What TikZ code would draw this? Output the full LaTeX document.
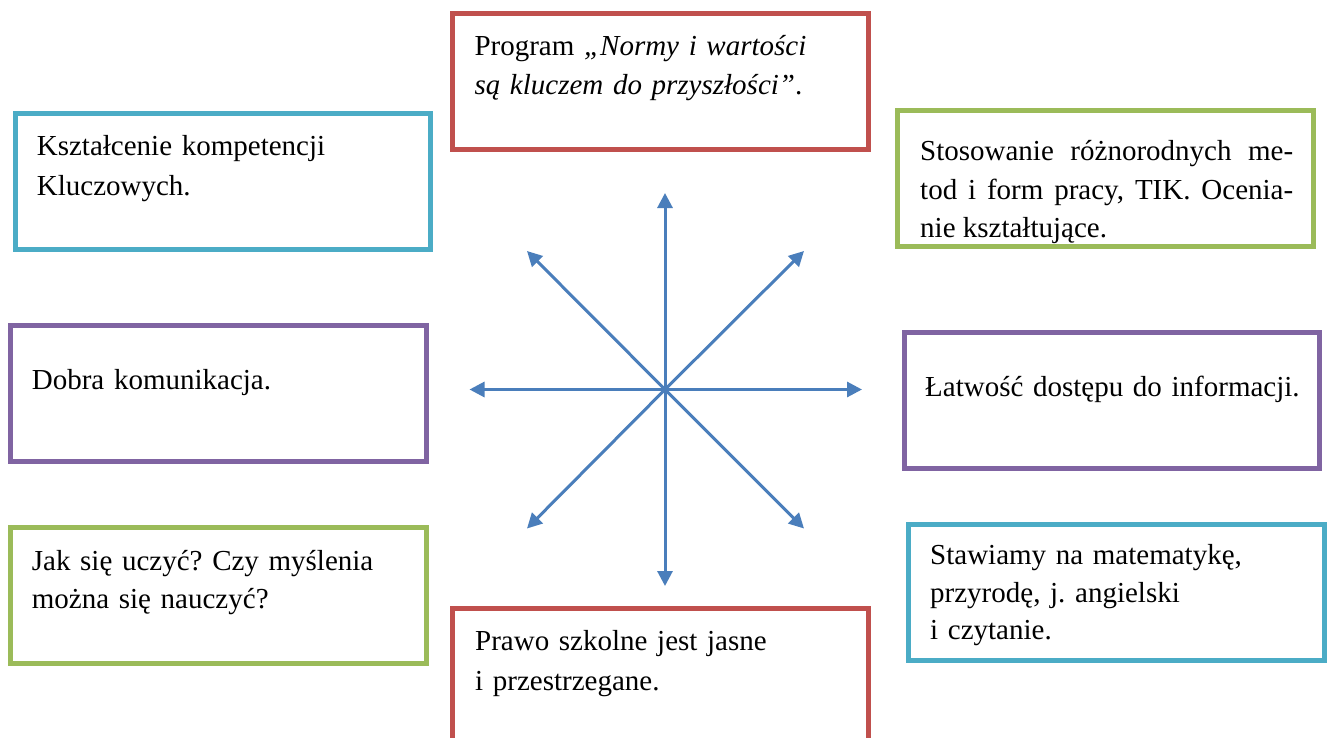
\documentclass[tikz,border=0pt]{standalone}
\usepackage{fontspec}
\setmainfont{Liberation Serif}
\usetikzlibrary{arrows.meta}
\definecolor{cRed}{HTML}{C0504D}
\definecolor{cCyan}{HTML}{4BACC6}
\definecolor{cGreen}{HTML}{9BBB59}
\definecolor{cPurple}{HTML}{8064A2}
\definecolor{cBlue}{HTML}{4A7EBB}
\frenchspacing
\begin{document}
\begin{tikzpicture}[x=1pt,y=-1pt,
  box/.style={draw=#1, line width=5pt, minimum width=415.5pt, minimum height=136pt, inner sep=0pt},
  txt/.style={anchor=base west, inner sep=0pt, align=left, text width=385pt},
  spoke/.style={draw=cBlue, line width=3pt, -{Triangle[length=15pt,width=15pt]}}]
\clip (0,0) rectangle (1331,737);
\fill[white] (0,0) rectangle (1331,737);
% boxes
\node[box=cRed] (bTop) at (660.25,81) {};
\node[box=cCyan] (bTL) at (223,181.75) {};
\node[box=cGreen] (bTR) at (1105.3,178.25) {};
\node[box=cPurple] (bL) at (218.5,393.75) {};
\node[box=cPurple] (bR) at (1111.75,400.75) {};
\node[box=cGreen] (bBL) at (218.5,595) {};
\node[box=cCyan] (bBR) at (1116.25,592.5) {};
\node[box=cRed] (bBot) at (660.25,676) {};
% texts
\node[txt, font=\fontsize{29}{39}\selectfont\frenchspacing] (tTop) at (474.3,55)
  {Program \textit{„Normy i wartości\\ są kluczem do przyszłości”}.};
\node[txt, font=\fontsize{29}{40}\selectfont\frenchspacing] (tTL) at (36.7,155)
  {Kształcenie kompetencji\\ Kluczowych.};
\node[txt, text width=373pt, align=justify, font=\fontsize{29}{38.3}\selectfont\frenchspacing] (tTR) at (920,160.7)
  {Stosowanie różnorodnych me-\linebreak tod i form pracy, TIK. Ocenia-\linebreak nie kształtujące.};
\node[txt, font=\fontsize{29}{38}\selectfont\frenchspacing] (tL) at (31.7,389.3)
  {Dobra komunikacja.};
\node[txt, font=\fontsize{29}{38}\selectfont\frenchspacing] (tR) at (925,396)
  {Łatwość dostępu do informacji.};
\node[txt, font=\fontsize{29}{37.6}\selectfont\frenchspacing] (tBL) at (31.7,570.7)
  {Jak się uczyć? Czy myślenia\\ można się nauczyć?};
\node[txt, font=\fontsize{29}{37.8}\selectfont\frenchspacing] (tBR) at (930,564.3)
  {Stawiamy na matematykę,\\ przyrodę, j. angielski\\ i czytanie.};
\node[txt, font=\fontsize{29}{39.3}\selectfont\frenchspacing] (tBot) at (475,650.7)
  {Prawo szkolne jest jasne\\ i przestrzegane.};
% spokes
\coordinate (c) at (665,389.5);
\coordinate (pN) at (665,193);
\coordinate (pS) at (665,586);
\coordinate (pW) at (469.5,389.5);
\coordinate (pE) at (862,389.5);
\coordinate (pNW) at (527,251);
\coordinate (pNE) at (804,251);
\coordinate (pSW) at (527,528.5);
\coordinate (pSE) at (804,528.5);
\foreach \p in {pN,pS,pW,pE,pNW,pNE,pSW,pSE}
  \draw[spoke] (c) -- (\p);
\end{tikzpicture}
\end{document}
